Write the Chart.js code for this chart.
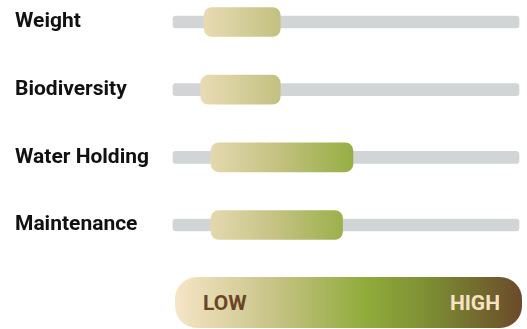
<!DOCTYPE html>
<html>
<head>
<meta charset="utf-8">
<script src="https://cdn.jsdelivr.net/npm/chart.js@4"></script>
<style>
  html, body { margin: 0; padding: 0; background: #fff; }
  #wrap { position: relative; width: 527px; height: 329px; }
  #chartBox { position: absolute; left: 0; top: 0; width: 527px; height: 262px; }
  .scaleBar {
    position: absolute; left: 175px; top: 277px; width: 347px; height: 51px;
    border-radius: 22px;
    background: linear-gradient(to right, #f6e5c7 0%, #c4c282 30%, #8fab3a 55%, #7c8a33 75%, #6b4a2a 100%);
    font-family: Roboto, sans-serif; font-weight: bold; font-size: 21px;
  }
  .scaleBar span { position: absolute; top: 50%; transform: translateY(-48%); }
  .low { left: 28px; color: #6b4526; }
  .high { right: 22px; color: #f6e3c3; }
</style>
</head>
<body>
<div id="wrap">
  <div id="chartBox"><canvas id="ratingChart"></canvas></div>
  <div class="scaleBar"><span class="low">LOW</span><span class="high">HIGH</span></div>
</div>
<script>
// ---- data ----
const categories = ["Weight", "Biodiversity", "Water Holding", "Maintenance"];
const rangeStart = [9, 8, 11, 11];
const rangeEnd = [31, 31, 52, 49];
const trackMin = 0;
const trackMax = 100;

// gradient spans the whole track, same as the LOW/HIGH bar
function trackGradient(context) {
  const chart = context.chart;
  const { ctx, chartArea, scales } = chart;
  if (!chartArea) return "#d6d49a";
  const x0 = scales.x.getPixelForValue(trackMin);
  const x1 = scales.x.getPixelForValue(trackMax);
  const g = ctx.createLinearGradient(x0, 0, x1, 0);
  g.addColorStop(0, "#f6e5c7");
  g.addColorStop(0.3, "#c4c282");
  g.addColorStop(0.55, "#8fab3a");
  g.addColorStop(0.75, "#7c8a33");
  g.addColorStop(1, "#6b4a2a");
  return g;
}

const ctx = document.getElementById("ratingChart").getContext("2d");

new Chart(ctx, {
  type: "bar",
  data: {
    labels: categories,
    datasets: [
      {
        label: "Range",
        data: categories.map((c, i) => [rangeStart[i], rangeEnd[i]]),
        backgroundColor: trackGradient,
        barThickness: 29,
        borderRadius: 8,
        borderSkipped: false,
        grouped: false,
        order: 1,
      },
      {
        label: "Track",
        data: categories.map(() => [trackMin, trackMax]),
        backgroundColor: "#d1d5d6",
        barThickness: 12,
        borderRadius: 3,
        borderSkipped: false,
        grouped: false,
        order: 2,
      },
    ],
  },
  options: {
    indexAxis: "y",
    responsive: true,
    maintainAspectRatio: false,
    animation: false,
    clip: false,
    layout: { padding: { left: 15, right: 8, top: 22, bottom: 37 } },
    plugins: { legend: { display: false }, tooltip: { enabled: false } },
    scales: {
      x: { min: trackMin, max: trackMax, display: false },
      y: {
        offset: false,
        grid: { display: false },
        border: { display: false },
        afterFit: (scale) => { scale.width = 158; },
        ticks: {
          crossAlign: "far",
          padding: 0,
          color: "#111",
          font: { family: "Roboto", weight: "bold", size: 21 },
        },
      },
    },
  },
});
</script>
</body>
</html>
